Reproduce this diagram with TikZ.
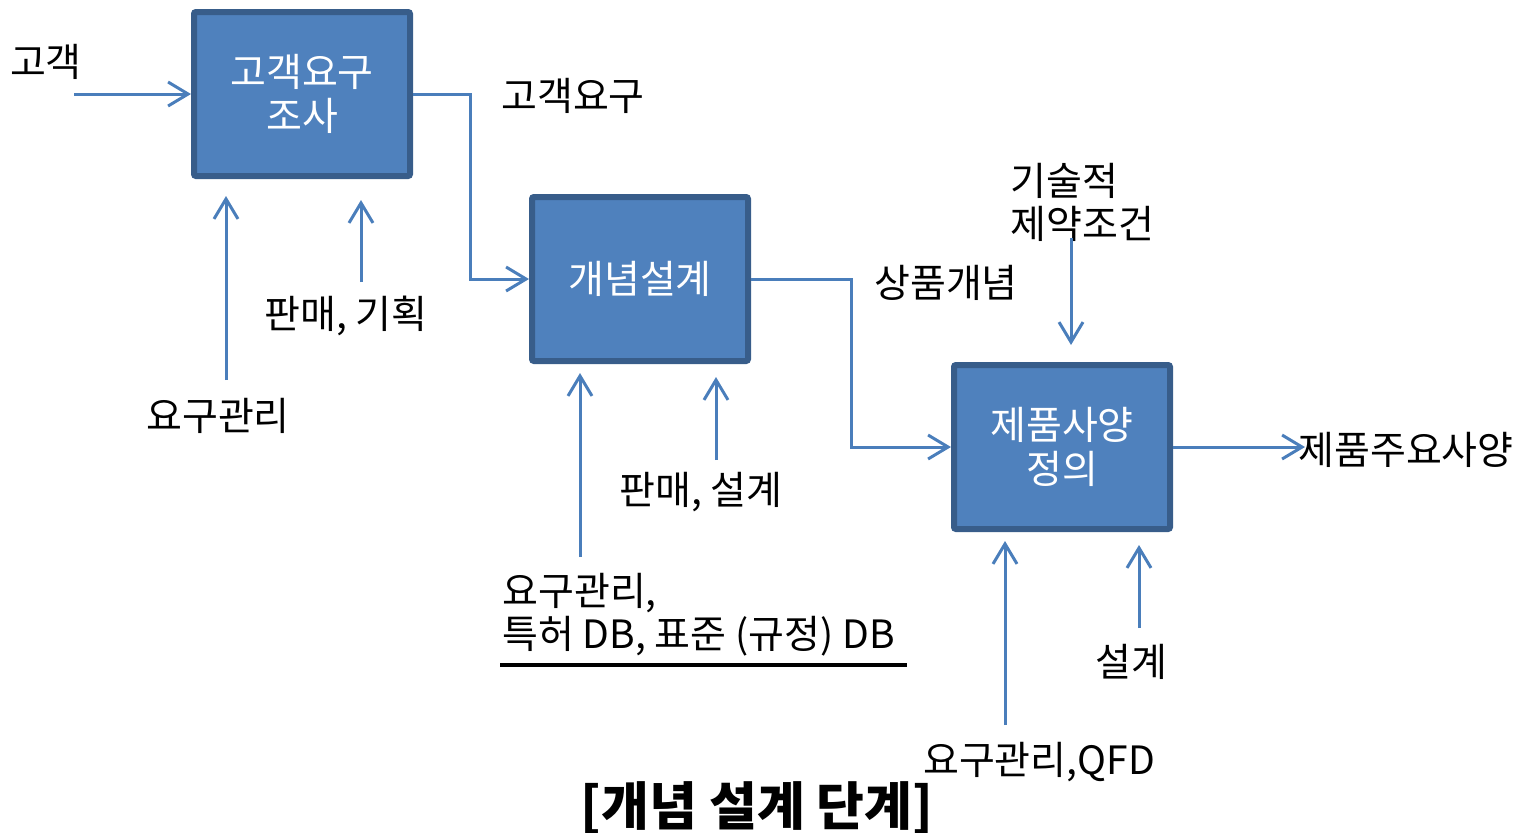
\documentclass[tikz,border=0pt]{standalone}
\usepackage{fontspec}
\setmainfont{Noto Sans CJK KR}
\usetikzlibrary{arrows.meta}
\definecolor{boxfill}{HTML}{4F81BD}
\definecolor{boxline}{HTML}{385D8A}
\definecolor{arrowc}{HTML}{4A7EBB}
\tikzset{
  procbox/.style={draw=boxline, fill=boxfill, line width=3pt, rounded corners=1pt,
    minimum width=108pt, minimum height=82pt, inner sep=0pt, text=white,
    align=center, font=\fontsize{19.5}{22}\selectfont},
  lbl/.style={inner sep=0pt, font=\fontsize{19.5}{21.5}\selectfont},
  flow/.style={draw=arrowc, line width=1.5pt, -{Straight Barb[length=10pt,width=12pt,line width=1.5pt]}},
}
\begin{document}
\begin{tikzpicture}[x=0.5pt,y=-0.5pt]
\useasboundingbox (0,0) rectangle (1522,832);
% boxes
\node[procbox] (b1) at (302,94) {\raisebox{-4pt}{\parbox{100pt}{\centering 고객요구\\조사}}};
\node[procbox] (b2) at (640,279) {\raisebox{-3pt}{개념설계}};
\node[procbox] (b3) at (1062,447) {\raisebox{-4.5pt}{\parbox{100pt}{\centering 제품사양\\정의}}};
% labels
\node[lbl] (lgogaek) at (46,62) {고객};
\node[lbl] (lreq) at (573,96) {고객요구};
\node[lbl] (lsale1) at (346,316) {판매, 기획};
\node[lbl] (lmgmt1) at (218,416) {요구관리};
\node[lbl] (lconcept) at (946,283) {상품개념};
\node[lbl, align=left, anchor=west] (ltech) at (1010,202) {기술적\\제약조건};
\node[lbl] (lsale2) at (701,492) {판매, 설계};
\node[lbl, align=left, anchor=west] (ldb) at (502,615) {요구관리,\\특허 DB, 표준 (규정) DB};
\node[lbl] (ldesign) at (1131,662) {설계};
\node[lbl] (lqfd) at (1039,762) {요구관리,QFD};
\node[lbl, anchor=west] (lout) at (1298,450) {제품주요사양};
\node[inner sep=0pt, font=\fontsize{26}{30}\selectfont\bfseries] (title) at (757,808) {[개념 설계 단계]};
% free ends
\coordinate (s0) at (74,94);
\coordinate (s1a) at (226,380);
\coordinate (s1b) at (361,282);
\coordinate (s2a) at (580,557);
\coordinate (s2b) at (716,460);
\coordinate (s3a) at (1005,725);
\coordinate (s3b) at (1139,628);
\coordinate (s3t) at (1071,238);
\coordinate (e1a) at (226,196);
\coordinate (e1b) at (361,200);
\coordinate (e2a) at (580,373);
\coordinate (e2b) at (716,377);
\coordinate (e3a) at (1005,541);
\coordinate (e3b) at (1139,545);
\coordinate (e3t) at (1071,345);
\coordinate (eout) at (1305,447);
% connectors
\draw[flow] (s0) -- (b1.west);
\draw[flow] (b1.east) -- (470,94) -- (470,279) -- (b2.west);
\draw[flow] (b2.east) -- (851,279) -- (851,447) -- (b3.west);
\draw[flow] (b3.east) -- (eout);
\draw[flow] (s1a) -- (e1a);
\draw[flow] (s1b) -- (e1b);
\draw[flow] (s2a) -- (e2a);
\draw[flow] (s2b) -- (e2b);
\draw[flow] (s3a) -- (e3a);
\draw[flow] (s3b) -- (e3b);
\draw[flow] (s3t) -- (e3t);
% underline
\coordinate (u1) at (500,665);
\coordinate (u2) at (907,665);
\draw[line width=2pt] (u1) -- (u2);
\end{tikzpicture}
\end{document}
